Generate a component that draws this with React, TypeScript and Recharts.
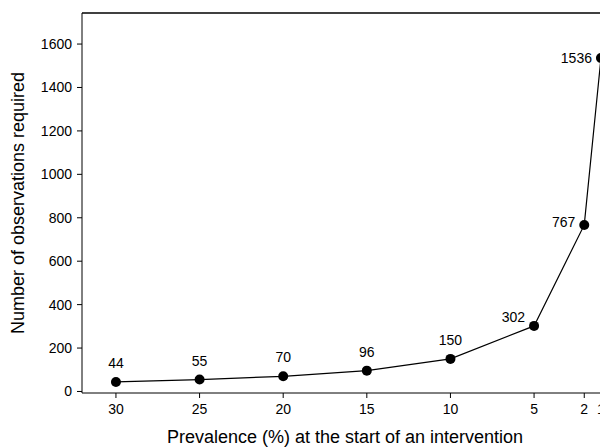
import React from "react";
import {
  LineChart,
  Line,
  XAxis,
  YAxis,
  ReferenceLine,
  LabelList,
} from "recharts";

// prevalence at start (%) and observations required
const prevalence = [30, 25, 20, 15, 10, 5, 2, 1];
const observations = [44, 55, 70, 96, 150, 302, 767, 1536];
const xTicks = [30, 25, 20, 15, 10, 5, 2, 1];
const yTicks = [0, 200, 400, 600, 800, 1000, 1200, 1400, 1600];

// where each value label sits relative to its dot
const labelSide = ["top", "top", "top", "top", "top", "upleft", "left", "left"];

const data = prevalence.map((p, i) => ({ p, n: observations[i] }));

const FONT = '"Liberation Sans", Arial, sans-serif';
const Y_MAX = 1743;

const ValueLabel = (props: any) => {
  const { x, y, value, index } = props;
  const side = labelSide[index];
  if (side === "top") {
    return (
      <text x={x} y={y - 14} textAnchor="middle" fontSize={14} fill="#000" fontFamily={FONT}>
        {value}
      </text>
    );
  }
  const dy = side === "upleft" ? -4 : index === 6 ? 2 : 5;
  return (
    <text x={x - 9} y={y + dy} textAnchor="end" fontSize={14} fill="#000" fontFamily={FONT}>
      {value}
    </text>
  );
};

export default function App() {
  return (
    <div style={{ width: 600, height: 439, fontFamily: FONT }}>
      <LineChart
        width={600}
        height={439}
        data={data}
        margin={{ top: 5, right: 0, left: 0, bottom: 0 }}
      >
        <XAxis
          dataKey="p"
          type="number"
          domain={[0.58, 32.03]}
          reversed
          allowDataOverflow
          ticks={xTicks}
          interval={0}
          height={54}
          tickSize={5}
          tickMargin={6}
          stroke="#000"
          tick={{ fontSize: 14, fill: "#000", fontFamily: FONT }}
          label={{
            value: "Prevalence (%) at the start of an intervention",
            position: "insideBottom",
            offset: 4,
            style: { fontSize: 18, fill: "#000", fontFamily: FONT },
          }}
        />
        <YAxis
          type="number"
          domain={[-7, Y_MAX]}
          allowDataOverflow
          ticks={yTicks}
          width={74}
          tickSize={5}
          tickMargin={5}
          stroke="#000"
          tick={{ fontSize: 14, fill: "#000", fontFamily: FONT }}
          label={{
            value: "Number of observations required",
            angle: -90,
            position: "insideLeft",
            offset: 10,
            style: { textAnchor: "middle", fontSize: 18, fill: "#000", fontFamily: FONT },
          }}
        />
        <ReferenceLine y={Y_MAX} stroke="#000" strokeWidth={1.5} />
        <Line
          dataKey="n"
          stroke="#000"
          strokeWidth={1.2}
          dot={{ r: 5, fill: "#000", stroke: "#000", strokeWidth: 0 }}
          isAnimationActive={false}
        >
          <LabelList dataKey="n" content={ValueLabel} />
        </Line>
      </LineChart>
    </div>
  );
}
